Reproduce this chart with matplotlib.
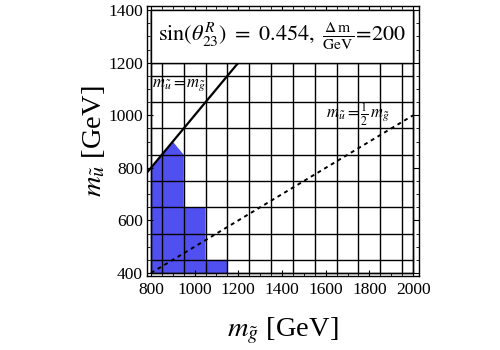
import matplotlib
matplotlib.use("Agg")
import matplotlib.pyplot as plt
import numpy as np
from matplotlib.patches import Polygon, Rectangle
from matplotlib.ticker import MultipleLocator

plt.rcParams['font.family'] = ['Liberation Serif', 'DejaVu Serif']
plt.rcParams['mathtext.fontset'] = 'stix'

# Excluded region boundary (gluino mass, up-squark mass) in GeV
excl_mg = [800, 1150, 1150, 1050, 1050, 950, 950, 900, 800]
excl_mu = [400, 400, 450, 450, 650, 650, 850, 900, 800]

# Scan-cell boundaries of the parameter grid
cell_mg = [800, 850, 950, 1050, 1150, 1250, 1350, 1450, 1550, 1650, 1750, 1850, 1950, 2000]
cell_mu = [400, 450, 550, 650, 750, 850, 950, 1050, 1150, 1200]
scan_mg = (800, 2000)
scan_mu = (400, 1400)

# Reference lines m_u = m_g and m_u = m_g / 2
line_mg = [770, 1200]
half_mg = [800, 2000]

sin_theta = 0.454
delta_m = 200

fig = plt.figure(figsize=(5, 3.5), dpi=100)
ax = fig.add_axes([0.294, 0.211, 0.544, 0.772])
ax.set_xlim(782, 2027)
ax.set_ylim(388, 1416)

blue = '#5050f0'
ax.add_patch(Polygon(np.column_stack([excl_mg, excl_mu]), closed=True,
                     facecolor=blue, edgecolor='none', zorder=1))

for x in cell_mg:
    ax.plot([x, x], [scan_mu[0], scan_mu[1]], color='black', lw=1.0, zorder=2)
for y in cell_mu:
    ax.plot([scan_mg[0], scan_mg[1]], [y, y], color='black', lw=1.0, zorder=2)
ax.add_patch(Rectangle((scan_mg[0], scan_mu[0]), scan_mg[1] - scan_mg[0],
                       scan_mu[1] - scan_mu[0], fill=False, edgecolor='black',
                       lw=1.0, zorder=2))

ax.plot(line_mg, line_mg, color='black', lw=1.6, zorder=3)
ax.plot(half_mg, [v / 2 for v in half_mg], color='black', lw=1.4,
        linestyle=(0, (2.0, 2.0)), zorder=3)

# Header box with the benchmark parameters
ax.add_patch(Rectangle((scan_mg[0], 1200), scan_mg[1] - scan_mg[0], 200,
                       facecolor='white', edgecolor='black', lw=1.0, zorder=4))
ax.text(1400, 1300,
        r'$\mathrm{sin}(\theta^{R}_{23})\ =\ %.3f,\ \frac{\Delta\,\mathrm{m}}{\mathrm{GeV}}\!=\!%d$'
        % (sin_theta, delta_m),
        ha='center', va='center', fontsize=16, zorder=5)

ax.text(805, 1115, r'$m_{\tilde{u}}=m_{\tilde{g}}$', ha='left', va='center',
        fontsize=12, zorder=5)
ax.text(1748, 1000, r'$m_{\tilde{u}}=\frac{1}{2}\,m_{\tilde{g}}$', ha='center',
        va='center', fontsize=12, zorder=5)

ax.xaxis.set_major_locator(MultipleLocator(200))
ax.xaxis.set_minor_locator(MultipleLocator(50))
ax.yaxis.set_major_locator(MultipleLocator(200))
ax.yaxis.set_minor_locator(MultipleLocator(50))
ax.tick_params(which='both', direction='in', top=True, right=True, labelsize=12.5)
ax.tick_params(which='major', length=4, width=0.8)
ax.tick_params(which='minor', length=2, width=0.6)
ax.tick_params(axis='x', pad=4)
ax.tick_params(axis='y', pad=3)
for s in ax.spines.values():
    s.set_linewidth(1.0)

ax.set_xlabel(r'$m_{\tilde{g}}$ [GeV]', fontsize=20.5, labelpad=13)
ax.set_ylabel(r'$m_{\tilde{u}}$ [GeV]', fontsize=20.5, labelpad=1)

fig.savefig('out.png', dpi=100)
